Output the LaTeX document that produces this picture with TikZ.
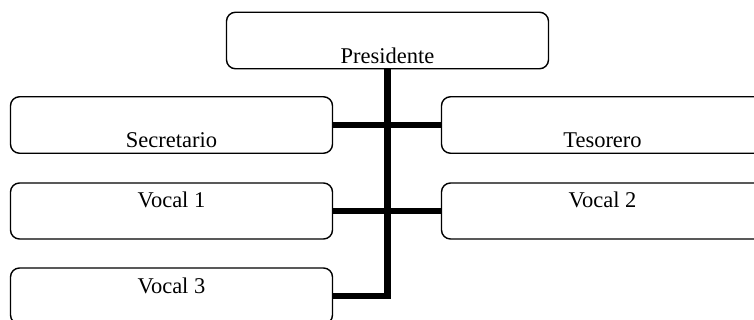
\documentclass[tikz,border=0pt]{standalone}
\usepackage{fontspec}
\setmainfont{Liberation Serif}
\begin{document}
\begin{tikzpicture}[x=1pt,y=-1pt,
  box/.style={draw=black, line width=1.4pt, rounded corners=9pt, inner xsep=0pt, inner ysep=0pt,
    minimum width=322pt, font=\fontsize{22.5}{26}\selectfont},
  up/.style={text height=51pt, text depth=5.5pt},
  down/.style={text height=25pt, text depth=31pt},
  conn/.style={line width=6.5pt, line join=miter, line cap=butt}]
\clip (0,0) rectangle (754,320);
\node[box,up]   (pres) at (387.5,40.5) {Presidente};
\node[box,up]   (sec)  at (171.5,125)  {Secretario};
\node[box,up]   (tes)  at (602.5,125)  {Tesorero};
\node[box,down] (v1)   at (171.5,211)  {Vocal 1};
\node[box,down] (v2)   at (602.5,211)  {Vocal 2};
\node[box,down] (v3)   at (171.5,296)  {Vocal 3};
\draw[conn] (pres.south) -- (pres.south |- v3.east) -- (v3.east);
\draw[conn] (sec.east) -- (tes.west);
\draw[conn] (v1.east) -- (v2.west);
\end{tikzpicture}
\end{document}
